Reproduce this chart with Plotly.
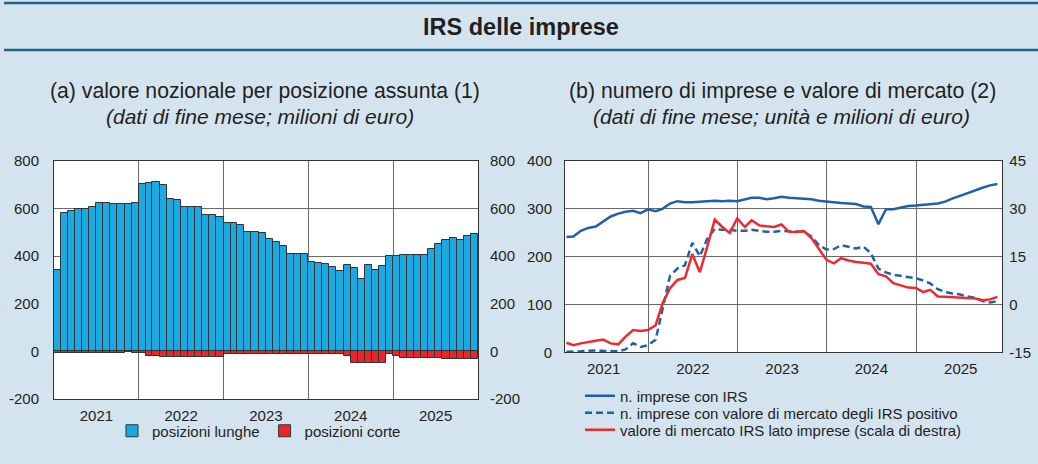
import calendar
import pandas as pd
import plotly.graph_objects as go

# ---------------- data ----------------
years = ["2021", "2022", "2023", "2024", "2025"]

# (a) monthly notional values, Jan 2021 - Dec 2025 (million euro)
bar_months = pd.date_range("2021-01-01", periods=60, freq="MS")
long_pos = [340, 580, 589, 597, 597, 608, 622, 625, 620, 620, 620, 622,
            703, 706, 712, 701, 641, 636, 606, 606, 606, 572, 572, 566,
            538, 538, 533, 503, 502, 497, 471, 459, 441, 411, 411, 411,
            375, 372, 369, 354, 337, 362, 350, 306, 364, 340, 358, 399,
            400, 404, 403, 407, 407, 429, 450, 469, 476, 466, 483, 494]
short_pos = [-6, -6, -6, -6, -6, -6, -6, -6, -6, -5, -4, -5,
             -5, -18, -20, -22, -22, -22, -22, -22, -22, -22, -22, -23,
             -10, -10, -10, -10, -10, -10, -10, -10, -10, -10, -10, -10,
             -10, -10, -10, -10, -11, -20, -49, -49, -49, -49, -49, -12,
             -20, -27, -27, -27, -27, -28, -28, -34, -34, -34, -34, -34]

# (b) month-end data, Jan 2021 - Nov 2025
line_dates = pd.date_range("2021-01-31", periods=59, freq=pd.offsets.MonthEnd())
n_firms = [241, 242, 254, 260, 263, 274, 284, 290, 294, 296, 291, 299,
           295, 300, 311, 316, 314, 314, 315, 317, 317, 316, 317, 316,
           320, 323, 323, 320, 322, 325, 323, 322, 321, 320, 317, 315,
           314, 312, 311, 310, 305, 304, 268, 299, 299, 303, 306, 307,
           308, 309, 311, 315, 322, 327, 333, 338, 344, 349, 352]
n_firms_pos = [1, 1, 2, 3, 4, 3, 2, 2, 6, 19, 11, 15,
               26, 90, 160, 175, 182, 229, 201, 238, 258, 256, 256, 254,
               254, 256, 254, 252, 252, 254, 253, 253, 252, 242, 224, 215,
               216, 224, 220, 217, 221, 207, 175, 167, 162, 160, 157, 155,
               150, 144, 132, 126, 123, 121, 117, 114, 107, 104, 107]
market_value = [-12.0, -12.8, -12.2, -11.7, -11.4, -11.0, -12.2, -12.5, -10.1, -8.0, -8.3, -8.0,
                -6.5, 0.3, 5.1, 7.7, 8.3, 15.8, 10.1, 18.3, 26.6, 24.3, 22.4, 27.0,
                24.3, 26.4, 24.8, 24.5, 24.3, 25.1, 22.8, 22.7, 23.0, 20.8, 17.5, 14.0,
                12.9, 14.5, 13.8, 13.3, 13.1, 12.8, 9.5, 8.8, 6.7, 6.0, 5.3, 5.2,
                3.9, 4.6, 2.5, 2.4, 2.3, 2.2, 2.0, 1.9, 1.3, 1.6, 2.4]

left_ticks = [-200, 0, 200, 400, 600, 800]
right_left_ticks = [0, 100, 200, 300, 400]
right_right_ticks = [-15, 0, 15, 30, 45]

# ---------------- style ----------------
W, H = 1038, 464
BG = "#d3e4ee"
RULE = "#25638c"
BAR_BLUE = "#1ba9e1"
BAR_RED = "#e8262b"
LINE_BLUE = "#1f5fae"
LINE_RED = "#ee2a2f"
GRID = "#6a6a6a"
FRAME = "#333333"
TXT = "#231f20"
FONT = "Liberation Sans, Arial, sans-serif"


def px_x(x):
    return x / W


def px_y(y):
    return 1 - y / H


month_ms = [calendar.monthrange(d.year, d.month)[1] * 86400000 for d in bar_months]

fig = go.Figure()

fig.add_trace(go.Bar(
    x=bar_months, y=long_pos, name="posizioni lunghe",
    xperiod="M1", xperiodalignment="middle", width=month_ms,
    marker=dict(color=BAR_BLUE, line=dict(color=FRAME, width=1)),
    xaxis="x", yaxis="y", legend="legend"))
fig.add_trace(go.Bar(
    x=bar_months, y=short_pos, name="posizioni corte",
    xperiod="M1", xperiodalignment="middle", width=month_ms,
    marker=dict(color=BAR_RED, line=dict(color=FRAME, width=1)),
    xaxis="x", yaxis="y", legend="legend"))
# invisible helper so the mirrored right axis of panel (a) is drawn
fig.add_trace(go.Scatter(x=[bar_months[0]], y=[0], mode="markers",
                         marker=dict(opacity=0), showlegend=False,
                         hoverinfo="skip", xaxis="x", yaxis="y2"))

fig.add_trace(go.Scatter(
    x=line_dates, y=n_firms, name="n. imprese con IRS", mode="lines",
    line=dict(color=LINE_BLUE, width=2.5), xaxis="x2", yaxis="y3", legend="legend2"))
fig.add_trace(go.Scatter(
    x=line_dates, y=n_firms_pos, name="n. imprese con valore di mercato degli IRS positivo",
    mode="lines", line=dict(color=LINE_BLUE, width=2.5, dash="7px,4px"),
    xaxis="x2", yaxis="y3", legend="legend3"))
fig.add_trace(go.Scatter(
    x=line_dates, y=market_value, name="valore di mercato IRS lato imprese (scala di destra)",
    mode="lines", line=dict(color=LINE_RED, width=2.5), xaxis="x2", yaxis="y4", legend="legend4"))

tickfont = dict(family=FONT, size=15, color=TXT)

xcommon = dict(type="date", dtick="M12", tick0="2021-01-01", ticklabelmode="period",
               tickformat="%Y", showgrid=True, gridcolor=GRID, gridwidth=1,
               showline=True, mirror=True, linecolor=FRAME, linewidth=1,
               ticks="", tickfont=tickfont, zeroline=False, ticklabelstandoff=3,
               automargin=False)

legfont = dict(family=FONT, size=15, color=TXT)

fig.update_layout(
    width=W, height=H,
    margin=dict(l=0, r=0, t=0, b=0, pad=0, autoexpand=False),
    paper_bgcolor=BG, plot_bgcolor="white",
    barmode="relative", bargap=0,
    font=dict(family=FONT, color=TXT),
    xaxis=dict(domain=[px_x(54), px_x(478)], anchor="y",
               range=["2021-01-01", "2026-01-01"], **xcommon),
    yaxis=dict(domain=[px_y(399), px_y(161)], anchor="x", range=[-200, 800],
               tickvals=left_ticks, ticktext=[str(v) for v in left_ticks],
               showgrid=True, gridcolor=GRID, zeroline=False,
               showline=True, mirror=True, linecolor=FRAME, ticks="",
               tickfont=tickfont, ticklabelstandoff=11, automargin=False),
    yaxis2=dict(overlaying="y", side="right", anchor="x", range=[-200, 800],
                tickvals=left_ticks, ticktext=[str(v) for v in left_ticks],
                showgrid=False, zeroline=False, ticks="", tickfont=tickfont,
                ticklabelstandoff=11, automargin=False),
    xaxis2=dict(domain=[px_x(565), px_x(1002.3)], anchor="y3",
                range=["2021-01-25", "2025-12-20"], **xcommon),
    yaxis3=dict(domain=[px_y(352.3), px_y(161)], anchor="x2", range=[0, 400],
                tickvals=right_left_ticks, ticktext=[str(v) for v in right_left_ticks],
                showgrid=True, gridcolor=GRID, zeroline=False,
                showline=True, mirror=True, linecolor=FRAME, ticks="",
                tickfont=tickfont, ticklabelstandoff=9, automargin=False),
    yaxis4=dict(overlaying="y3", side="right", anchor="x2", range=[-15, 45],
                tickvals=right_right_ticks, ticktext=[str(v) for v in right_right_ticks],
                showgrid=False, zeroline=False, ticks="", tickfont=tickfont,
                ticklabelstandoff=6, automargin=False),
    legend=dict(orientation="h", x=px_x(112), y=px_y(431), xanchor="left", yanchor="middle",
                bgcolor="rgba(0,0,0,0)", font=legfont, traceorder="normal",
                itemwidth=30, tracegroupgap=0),
    legend2=dict(x=px_x(580), y=px_y(396), xanchor="left", yanchor="middle",
                 bgcolor="rgba(0,0,0,0)", font=legfont),
    legend3=dict(x=px_x(580), y=px_y(413), xanchor="left", yanchor="middle",
                 bgcolor="rgba(0,0,0,0)", font=legfont),
    legend4=dict(x=px_x(580), y=px_y(430), xanchor="left", yanchor="middle",
                 bgcolor="rgba(0,0,0,0)", font=legfont),
    showlegend=True,
)

# header rules
fig.add_shape(type="line", xref="paper", yref="paper", x0=px_x(4), x1=px_x(1038),
              y0=px_y(3), y1=px_y(3), line=dict(color=RULE, width=2.5))
fig.add_shape(type="line", xref="paper", yref="paper", x0=px_x(4), x1=px_x(1038),
              y0=px_y(50), y1=px_y(50), line=dict(color=RULE, width=2.5))

ann = [
    ("<b>IRS delle imprese</b>", 521, 27, 23.5),
    ("(a) valore nozionale per posizione assunta (1)", 265, 91, 21.2),
    ("<i>(dati di fine mese; milioni di euro)</i>", 260, 116, 21),
    ("(b) numero di imprese e valore di mercato (2)", 782, 91, 21.3),
    ("<i>(dati di fine mese; unità e milioni di euro)</i>", 781, 116, 21),
]
for text, x, y, size in ann:
    fig.add_annotation(text=text, x=px_x(x), y=px_y(y), xref="paper", yref="paper",
                       xanchor="center", yanchor="middle", showarrow=False,
                       font=dict(family=FONT, size=size, color=TXT))

fig.write_html("out.html", config={"displayModeBar": False},
               post_script="document.body.style.margin='0';"
                           "document.body.style.overflow='hidden';"
                           "document.documentElement.style.overflow='hidden';")
